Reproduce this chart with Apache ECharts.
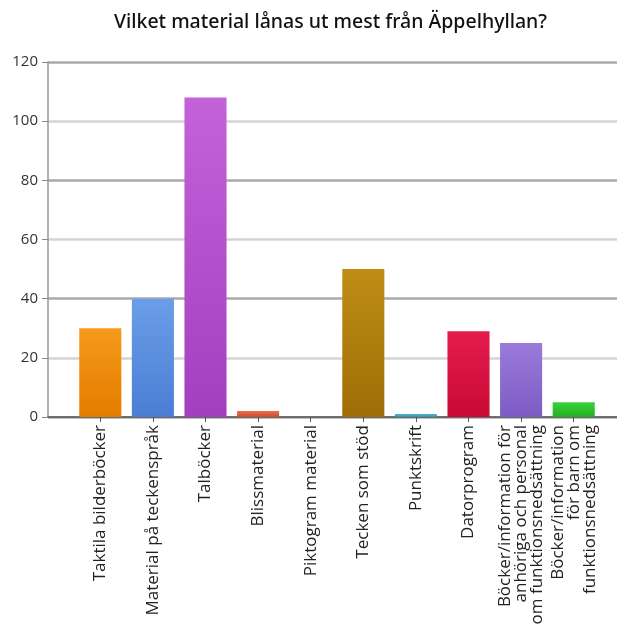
<!DOCTYPE html>
<html><head><meta charset="utf-8">
<script src="https://cdn.jsdelivr.net/npm/echarts@6/dist/echarts.min.js"></script>
<style>html,body{margin:0;padding:0;background:#fff}#c{width:617px;height:625px}</style>
</head><body><div id="c"></div>
<script>
const titleText = 'Vilket material lånas ut mest från Äppelhyllan?';
const categories = [
  'Taktila bilderböcker',
  'Material på teckenspråk',
  'Talböcker',
  'Blissmaterial',
  'Piktogram material',
  'Tecken som stöd',
  'Punktskrift',
  'Datorprogram',
  'Böcker/information för\nanhöriga och personal\nom funktionsnedsättning',
  'Böcker/information\nför barn om\nfunktionsnedsättning'
];
const values = [30, 40, 108, 2, 0, 50, 1, 29, 25, 5];
const barColors = [
  ['#f59a1a', '#e47c00'],
  ['#6a9ee8', '#4a7ed4'],
  ['#c462da', '#a23fbf'],
  ['#e8704e', '#d04a30'],
  ['#888888', '#666666'],
  ['#c08e16', '#9e6d06'],
  ['#58b4d0', '#3090b0'],
  ['#e41c4c', '#c80a34'],
  ['#9a7ada', '#7c5cc4'],
  ['#3cd03c', '#22b022']
];
const yTicks = [0, 20, 40, 60, 80, 100, 120];

const chart = echarts.init(document.getElementById('c'));
chart.setOption({
  backgroundColor: '#fff',
  animation: false,
  title: {
    text: titleText, left: 109, top: 7,
    textStyle: { fontFamily: 'Noto Sans', fontSize: 19.5, fontWeight: 500, color: '#111' }
  },
  grid: [
    { left: 48, right: 0, top: 62, bottom: 208, containLabel: false, outerBoundsMode: 'none' },
    { left: 74, right: 17, top: 62, bottom: 208, containLabel: false, outerBoundsMode: 'none' }
  ],
  xAxis: [
    { gridIndex: 0, type: 'value', min: 0, max: 1,
      axisLine: { show: true, lineStyle: { color: '#555', width: 1.5 } },
      axisTick: { show: false }, axisLabel: { show: false }, splitLine: { show: false } },
    { gridIndex: 1, type: 'category', data: categories,
      axisLine: { show: false },
      axisTick: { show: true, alignWithLabel: true, length: 5, lineStyle: { color: '#555' } },
      axisLabel: { rotate: 90, interval: 0, margin: 8, fontFamily: 'Open Sans', fontSize: 17,
        color: '#222', lineHeight: 16 } }
  ],
  yAxis: [
    { gridIndex: 0, type: 'value', min: yTicks[0], max: yTicks[yTicks.length - 1], interval: 20,
      axisLine: { show: true, lineStyle: { color: '#999', width: 1.5 } },
      axisTick: { show: true, length: 6, lineStyle: { color: '#888' } },
      axisLabel: { margin: 10, fontFamily: 'Open Sans', fontSize: 15, color: '#333' },
      splitLine: { show: true, lineStyle: { color: ['#aaa', '#d4d4d4'], width: 2.5 } } },
    { gridIndex: 1, type: 'value', min: yTicks[0], max: yTicks[yTicks.length - 1], interval: 20, show: false,
      splitLine: { show: false } }
  ],
  series: [{
    type: 'bar', xAxisIndex: 1, yAxisIndex: 1,
    barCategoryGap: '20%',
    data: values.map((v, i) => ({
      value: v,
      itemStyle: {
        color: new echarts.graphic.LinearGradient(0, 0, 0, 1, [
          { offset: 0, color: barColors[i][0] }, { offset: 1, color: barColors[i][1] }
        ])
      }
    }))
  }]
});
</script></body></html>
